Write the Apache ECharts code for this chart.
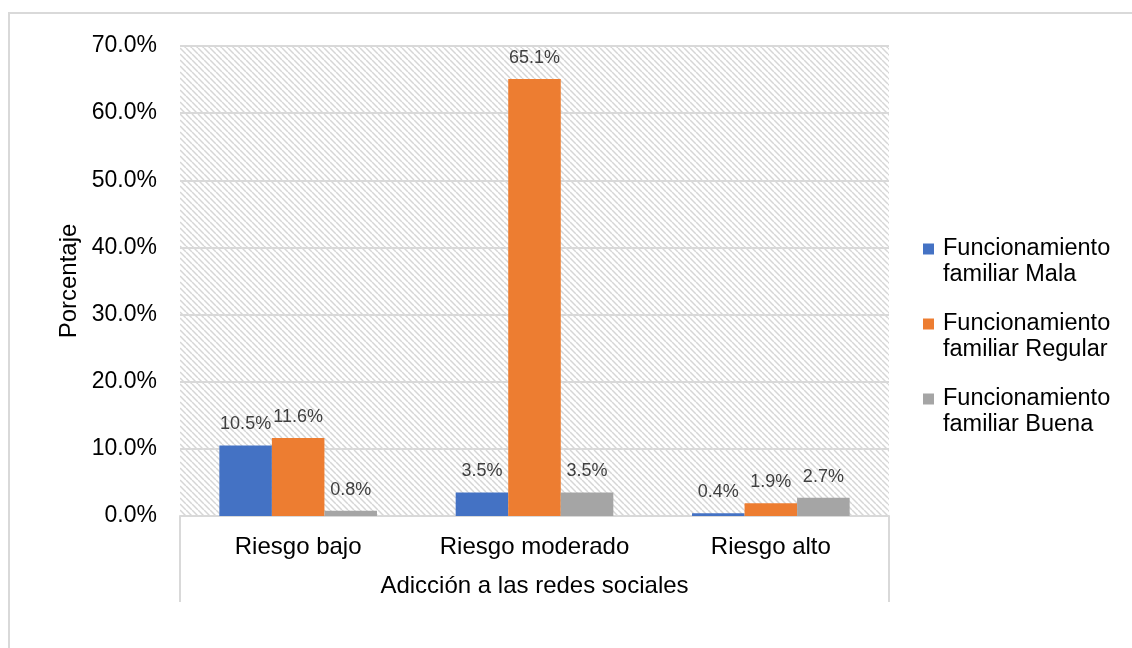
<!DOCTYPE html>
<html>
<head>
<meta charset="utf-8">
<script src="https://cdn.jsdelivr.net/npm/echarts@6/dist/echarts.min.js"></script>
<style>
html,body{margin:0;padding:0;background:#fff;}
#chart{width:1132px;height:648px;}
</style>
</head>
<body>
<div id="chart"></div>
<script>
const categories = ['Riesgo bajo', 'Riesgo moderado', 'Riesgo alto'];
const seriesNames = ['Funcionamiento familiar Mala', 'Funcionamiento familiar Regular', 'Funcionamiento familiar Buena'];
const valuesMala = [10.5, 3.5, 0.4];
const valuesRegular = [11.6, 65.1, 1.9];
const valuesBuena = [0.8, 3.5, 2.7];
const colors = ['#4472C4', '#ED7D31', '#A5A5A5'];
const yTicks = [0, 10, 20, 30, 40, 50, 60, 70];

const FONT = '"Liberation Sans", Arial, sans-serif';

// hatch pattern for plot background
const pc = document.createElement('canvas');
pc.width = 6; pc.height = 6;
const pctx = pc.getContext('2d');
pctx.strokeStyle = '#d6d6d6';
pctx.lineWidth = 1.5;
for (const k of [-6, 0, 6]) {
  pctx.beginPath();
  pctx.moveTo(k, 0);
  pctx.lineTo(k + 6, 6);
  pctx.stroke();
}

const chart = echarts.init(document.getElementById('chart'), null, {renderer: 'canvas'});

const allValues = [valuesMala, valuesRegular, valuesBuena];
const rich = {
  t: {fontSize: 23.5, fontFamily: FONT, color: '#000', lineHeight: 26},
  g: {width: 9, height: 11},
  s: {width: 20, height: 11}
};
colors.forEach((c, i) => { rich['b' + i] = {width: 11, height: 11, backgroundColor: c}; });

const option = {
  animation: false,
  backgroundColor: '#fff',
  textStyle: {fontFamily: FONT},
  grid: {
    left: 180, right: 243, top: 46, bottom: 132,
    show: true,
    borderWidth: 0,
    backgroundColor: {image: pc, repeat: 'repeat'}
  },
  legend: {
    orient: 'vertical',
    left: 913,
    top: 232,
    itemWidth: 0,
    itemHeight: 0,
    itemGap: 25,
    itemStyle: {opacity: 0},
    selectedMode: false,
    data: seriesNames,
    formatter: function (name) {
      const i = seriesNames.indexOf(name);
      const parts = name.split(' ');
      const l1 = parts[0];
      const l2 = parts.slice(1).join(' ');
      return '{b' + i + '|}{g|}{t|' + l1 + '}\n{s|}{t|' + l2 + '}';
    },
    textStyle: {rich: rich, fontSize: 23.5, fontFamily: FONT}
  },
  xAxis: {
    type: 'category',
    data: categories,
    name: 'Adicción a las redes sociales',
    nameLocation: 'middle',
    nameGap: 58,
    nameTextStyle: {fontSize: 24, color: '#000', fontFamily: FONT},
    axisLine: {show: true, lineStyle: {color: '#d9d9d9', width: 2}},
    axisTick: {show: false},
    axisLabel: {fontSize: 24, color: '#000', margin: 19, fontFamily: FONT, interval: 0, hideOverlap: false}
  },
  yAxis: {
    type: 'value',
    min: 0,
    max: 70,
    interval: 10,
    name: 'Porcentaje',
    nameLocation: 'middle',
    nameGap: 96,
    nameRotate: 90,
    nameTextStyle: {fontSize: 24, color: '#000', fontFamily: FONT},
    axisLine: {show: false},
    axisTick: {show: false},
    axisLabel: {
      fontSize: 23, color: '#000', margin: 23, fontFamily: FONT,
      formatter: v => v.toFixed(1) + '%'
    },
    splitLine: {show: true, lineStyle: {color: '#d9d9d9', width: 2}}
  },
  series: seriesNames.map((n, i) => ({
    name: n,
    type: 'bar',
    data: allValues[i],
    barGap: '0%',
    barCategoryGap: '33.3%',
    itemStyle: {color: colors[i]},
    label: {
      show: true,
      position: 'top',
      distance: 12,
      fontSize: 18,
      color: '#404040',
      fontFamily: FONT,
      formatter: p => p.value.toFixed(1) + '%'
    }
  }))
};
chart.setOption(option);

// decorations: outer border and category-axis box edges
const rect = chart.getModel().getComponent('grid').coordinateSystem.getRect();
const x0 = rect.x, x1 = rect.x + rect.width, yb = rect.y + rect.height;
chart.setOption({
  graphic: [
    {type: 'rect', shape: {x: 9, y: 13, width: 1140, height: 700}, style: {fill: 'none', stroke: '#d9d9d9', lineWidth: 2}, silent: true},
    {type: 'line', shape: {x1: x0, y1: yb, x2: x0, y2: yb + 86}, style: {stroke: '#d9d9d9', lineWidth: 2}, silent: true},
    {type: 'line', shape: {x1: x1, y1: yb, x2: x1, y2: yb + 86}, style: {stroke: '#d9d9d9', lineWidth: 2}, silent: true}
  ]
});
</script>
</body>
</html>
